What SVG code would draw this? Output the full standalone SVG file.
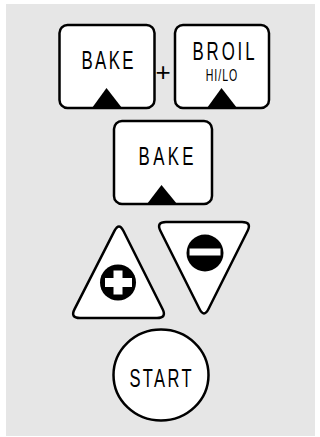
<svg xmlns="http://www.w3.org/2000/svg" width="320" height="437" viewBox="0 0 320 437">
<style>
.key{fill:#fff;stroke:#000;stroke-width:2.5}
.lbl{font-family:"Liberation Sans",Arial,sans-serif;fill:#000;text-anchor:middle}
.tri{fill:#000}
</style>
<rect x="6" y="4" width="309" height="432" fill="#e6e6e6"/>
<g id="bake1">
<rect class="key" x="59.5" y="25" width="95" height="83" rx="8"/>
<path class="tri" d="M92,108 L106.5,88 L122,108 Z"/>
<text class="lbl" transform="translate(107.5,68.5) scale(0.66,1)" font-size="25.5" textLength="79" lengthAdjust="spacing">BAKE</text>
</g>
<g id="plus">
<text class="lbl" x="163" y="81" font-size="26">+</text>
</g>
<g id="broil">
<rect class="key" x="175" y="25" width="94" height="83" rx="8"/>
<path class="tri" d="M207,108 L221.5,88 L237,108 Z"/>
<text class="lbl" transform="translate(223.5,59.5) scale(0.66,1)" font-size="25.5" textLength="94" lengthAdjust="spacing">BROIL</text>
<text class="lbl" transform="translate(221.5,80.5) scale(0.66,1)" font-size="16" textLength="48" lengthAdjust="spacing">HI/LO</text>
</g>
<g id="bake2">
<rect class="key" x="114" y="121" width="98" height="83" rx="8"/>
<path class="tri" d="M147,204 L161.5,185 L177,204 Z"/>
<text class="lbl" transform="translate(166,164.5) scale(0.66,1)" font-size="25.5" textLength="83" lengthAdjust="spacing">BAKE</text>
</g>
<g id="up">
<path class="key" d="M123.47,230.94 L162.53,309.06 Q167,318 157,318 L80,318 Q70,318 74.55,309.09 L114.45,230.91 Q119,222 123.47,230.94 Z"/>
<circle cx="118" cy="282.5" r="18" fill="#000"/>
<rect x="105" y="278" width="27" height="9" fill="#fff"/>
<rect x="113.5" y="270.5" width="9" height="24" fill="#fff"/>
</g>
<g id="down">
<path class="key" d="M166,222 L242,222 Q252,222 247.53,230.94 L208.47,309.06 Q204,318 199.53,309.06 L160.47,230.94 Q156,222 166,222 Z"/>
<circle cx="205" cy="253" r="18.5" fill="#000"/>
<rect x="189.5" y="248.5" width="31" height="7" fill="#fff"/>
</g>
<g id="start">
<ellipse class="key" cx="161" cy="375" rx="47.5" ry="45.5"/>
<text class="lbl" transform="translate(160.5,386.5) scale(0.66,1)" font-size="25" textLength="94" lengthAdjust="spacing">START</text>
</g>
<g id="connectors"></g>
</svg>
